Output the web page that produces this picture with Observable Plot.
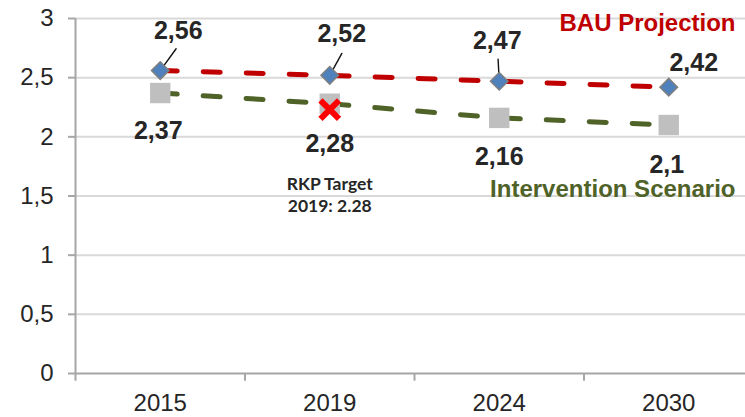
<!DOCTYPE html>
<html><head><meta charset="utf-8">
<script src="https://cdn.jsdelivr.net/npm/d3@7"></script>
<script src="https://cdn.jsdelivr.net/npm/@observablehq/plot@0.6"></script>
<style>body{margin:0;background:#fff} svg{display:block}</style>
</head><body><div id="chart"></div>
<script>
const years = ["2015", "2019", "2024", "2030"];
const bauValues = [2.56, 2.52, 2.47, 2.42];
const interventionValues = [2.37, 2.28, 2.16, 2.10];
const yTicks = [0, 0.5, 1, 1.5, 2, 2.5, 3];
const targetIndex = 1;          // 2019
const targetValue = 2.23;       // drawn position of the red cross
const targetLabel = "RKP Target\n2019: 2.28";
const bauName = "BAU Projection";
const interventionName = "Intervention Scenario";

// label placement (pixel offsets from their points)
const bauLabelOffsets = [[18, -40], [12, -41], [-2, -40], [25, -24]];
const interventionLabelOffsets = [[-2, 38], [0, 40], [0, 39], [-2, 40]];
// leader lines: [index, angle (deg), length (px)]
const leaders = [[0, 36, 27], [1, 29, 25], [2, -3, 22]];

const fmt = v => String(v).replace(".", ",");
const bau = years.map((y, i) => ({i, year: y, value: bauValues[i]}));
const intervention = years.map((y, i) => ({i, year: y, value: interventionValues[i]}));
const boundaries = d3.range(years.length + 1).map(i => i - 0.5);

const RED = "#c00000", GREEN = "#4f6228", AXIS = "#a6a6a6", GRID = "#d9d9d9", TXT = "#262626";
const lineShape = {draw(ctx, l) { ctx.moveTo(0, 0); ctx.lineTo(0, -l); }};

const chart = Plot.plot({
  width: 745, height: 417,
  marginLeft: 75, marginRight: 0, marginTop: 18, marginBottom: 44,
  style: {fontFamily: "'Liberation Sans', Arial, sans-serif", background: "#fff"},
  x: {type: "linear", domain: [-0.5, years.length - 0.5], range: [75, 753], label: null},
  y: {domain: [0, 3], label: null},
  marks: [
    Plot.ruleY(yTicks.filter(d => d > 0), {stroke: GRID, strokeWidth: 2}),
    Plot.ruleY([0], {stroke: AXIS, strokeWidth: 2}),
    Plot.ruleX([boundaries[0]], {y1: -0.065, y2: 3, stroke: AXIS, strokeWidth: 2}),
    Plot.ruleX(boundaries.slice(1), {y1: 0, y2: -0.065, stroke: AXIS, strokeWidth: 2}),
    Plot.axisY(yTicks, {tickSize: 7, tickPadding: 15, fontSize: 24, tickFormat: fmt,
      stroke: AXIS, strokeWidth: 2, fill: TXT, label: null}),
    Plot.axisX(d3.range(years.length), {tickSize: 0, tickPadding: 20, fontSize: 24,
      tickFormat: i => years[i], fill: TXT, label: null}),
    Plot.lineY(bau, {x: "i", y: "value", stroke: RED, strokeWidth: 5,
      strokeDasharray: "17,26", strokeLinecap: "round"}),
    Plot.lineY(intervention, {x: "i", y: "value", stroke: GREEN, strokeWidth: 5,
      strokeDasharray: "17,26", strokeLinecap: "round"}),
    ...leaders.map(([k, angle, len]) => Plot.vector([bau[k]], {x: "i", y: "value",
      length: len, rotate: angle, anchor: "start", shape: lineShape,
      stroke: "#111", strokeWidth: 1.4})),
    Plot.dot(intervention, {x: "i", y: "value", symbol: "square", r: 11.5,
      fill: "#bfbfbf", stroke: "none"}),
    Plot.dot(bau, {x: "i", y: "value", symbol: "square", r: 7, rotate: 45,
      fill: "#4f81bd", stroke: "#7f7f7f", strokeWidth: 1.5}),
    Plot.dot([{i: targetIndex, value: targetValue}], {x: "i", y: "value", symbol: "times",
      r: 8.5, stroke: "#ff0000", strokeWidth: 6}),
    ...bau.map((d, k) => Plot.text([d], {x: "i", y: "value", text: e => fmt(e.value),
      dx: bauLabelOffsets[k][0], dy: bauLabelOffsets[k][1], fontSize: 25,
      fontWeight: "bold", fill: TXT})),
    ...intervention.map((d, k) => Plot.text([d], {x: "i", y: "value", text: e => fmt(e.value),
      dx: interventionLabelOffsets[k][0], dy: interventionLabelOffsets[k][1], fontSize: 25,
      fontWeight: "bold", fill: TXT})),
    Plot.text([targetLabel], {x: targetIndex, y: targetValue, text: d => d, dy: 84,
      fontFamily: "Lato, 'Open Sans', sans-serif", fontWeight: "bold", fontSize: 17.5,
      lineHeight: 1.25, fill: TXT}),
    Plot.text([bauName], {frameAnchor: "top-right", dx: -10, dy: 5, text: d => d,
      textAnchor: "end", lineAnchor: "middle", fontSize: 24, fontWeight: "bold", fill: RED}),
    Plot.text([interventionName], {frameAnchor: "top-right", dx: -10, dy: 171, text: d => d,
      textAnchor: "end", lineAnchor: "middle", fontSize: 24, fontWeight: "bold", fill: GREEN})
  ]
});
document.getElementById("chart").appendChild(chart);
</script>
</body></html>
